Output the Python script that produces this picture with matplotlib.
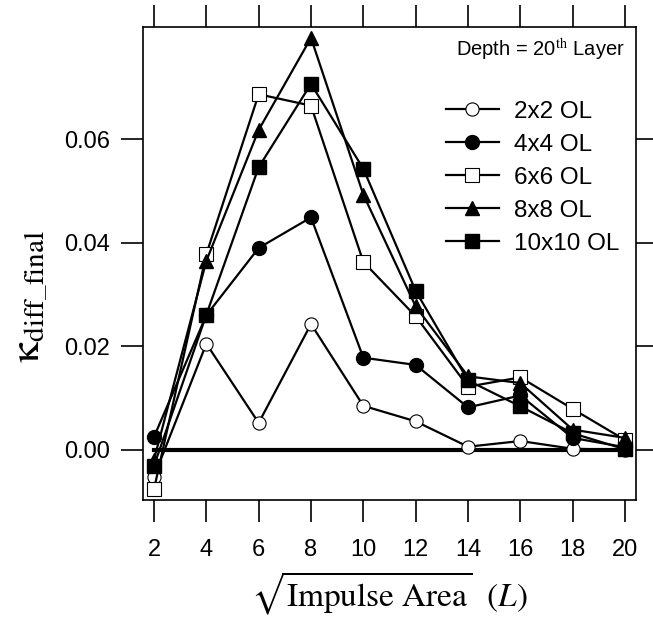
import matplotlib
matplotlib.use("Agg")
import matplotlib.pyplot as plt

plt.rcParams['font.family'] = ['Liberation Sans', 'DejaVu Sans']
plt.rcParams['mathtext.fontset'] = 'stix'

x = [2, 4, 6, 8, 10, 12, 14, 16, 18, 20]
ol2 = [-0.0052, 0.0205, 0.0052, 0.0243, 0.0085, 0.0055, 0.0006, 0.0017, 0.0002, 0.0000]
ol4 = [0.0025, 0.0260, 0.0390, 0.0449, 0.0178, 0.0164, 0.0082, 0.0105, 0.0023, 0.0005]
ol6 = [-0.0076, 0.0378, 0.0687, 0.0665, 0.0363, 0.0258, 0.0122, 0.0140, 0.0079, 0.0019]
ol8 = [-0.0019, 0.0365, 0.0618, 0.0796, 0.0493, 0.0277, 0.0142, 0.0129, 0.0039, 0.0023]
ol10 = [-0.0031, 0.0261, 0.0546, 0.0707, 0.0543, 0.0307, 0.0134, 0.0084, 0.0032, 0.0001]
labels = ['2x2 OL', '4x4 OL', '6x6 OL', '8x8 OL', '10x10 OL']
yticks = [0.00, 0.02, 0.04, 0.06]
xticks = [2, 4, 6, 8, 10, 12, 14, 16, 18, 20]

fig = plt.figure(figsize=(6.53, 6.23), dpi=100)
ax = fig.add_axes([0.219, 0.1974, 0.755, 0.7593])

series = [ol2, ol4, ol6, ol8, ol10]
styles = [
    dict(marker='o', mfc='white', mec='black', ms=9.5, mew=0.8),
    dict(marker='o', mfc='black', mec='black', ms=10),
    dict(marker='s', mfc='white', mec='black', ms=9.5, mew=0.8),
    dict(marker='^', mfc='black', mec='black', ms=10),
    dict(marker='s', mfc='black', mec='black', ms=10),
]

ax.plot([x[0], x[-1]], [0, 0], color='black', lw=3, zorder=1)
handles = []
for s, st, lab in zip(series, styles, labels):
    h, = ax.plot(x, s, color='black', lw=1.6, label=lab, zorder=3, **st)
    handles.append(h)

ax.set_xlim(1.58, 20.42)
ax.set_ylim(-0.0097, 0.0817)
ax.set_xticks(xticks)
ax.set_yticks(yticks)
ax.set_yticklabels([f'{v:.2f}' for v in yticks])
ax.tick_params(axis='both', which='both', direction='out', length=16, width=1.2,
               labelsize=17, top=True, right=True, labeltop=False, labelright=False)
ax.tick_params(axis='x', pad=12)
ax.tick_params(axis='y', pad=8)
for sp in ax.spines.values():
    sp.set_linewidth(1.2)

ax.set_ylabel(r'$\mathrm{\kappa}_{\mathrm{diff\_final}}$', fontsize=30)
ax.yaxis.set_label_coords(-0.19, 0.43)
ax.set_xlabel(r'$\sqrt{\mathrm{Impulse\ Area}}\ \ (L)$', fontsize=24)
ax.xaxis.set_label_coords(0.5, -0.148)

ax.text(0.978, 0.98, r'Depth = 20$^{\mathrm{th}}$ Layer', transform=ax.transAxes,
        ha='right', va='top', fontsize=14.5)

leg = ax.legend(handles=handles, loc='upper right', bbox_to_anchor=(1.0, 0.88),
                frameon=False, fontsize=17.5, handlelength=2.2, labelspacing=0.45,
                handletextpad=0.6, borderaxespad=0.3)

fig.savefig('out.png', dpi=100)
